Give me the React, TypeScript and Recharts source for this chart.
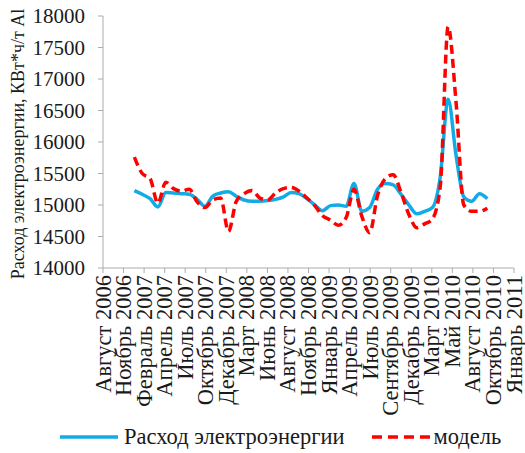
import React from 'react';
import { LineChart, Line, XAxis, YAxis, Legend, Label } from 'recharts';

// month index: 0 = August 2006
const monthIdx = [4, 5, 6, 7, 8, 9, 10, 11, 12, 13, 14, 15, 16, 17, 18, 19, 20, 21, 22, 23, 24, 25, 26, 27, 28, 29, 30, 31, 32, 33, 34, 35, 36, 37, 38, 39, 40, 41, 42, 43, 44, 45, 46, 47, 48, 49];

const consumption = [15228, 15170, 15100, 14970, 15200, 15190, 15180, 15170, 15090, 14980, 15140, 15190, 15210, 15140, 15080, 15060, 15060, 15070, 15090, 15130, 15200, 15180, 15100, 15000, 14910, 14990, 15000, 14980, 15340, 14900, 14960, 15250, 15340, 15320, 15170, 15000, 14860, 14900, 14960, 15450, 16680, 15800, 15130, 15060, 15180, 15100];

const model = [15760, 15500, 15420, 15030, 15360, 15260, 15220, 15250, 15050, 14960, 15080, 15110, 14580, 15060, 15180, 15230, 15110, 15080, 15190, 15260, 15280, 15220, 15110, 14990, 14830, 14760, 14680, 14800, 15250, 14820, 14560, 15150, 15420, 15480, 15200, 14850, 14640, 14700, 14780, 15300, 17830, 16650, 15000, 14900, 14900, 14950];

const tickLabels = ['Август 2006', 'Ноябрь 2006', 'Февраль 2007', 'Апрель 2007', 'Июль 2007', 'Октябрь 2007', 'Декабрь 2007', 'Март 2008', 'Июнь 2008', 'Август 2008', 'Ноябрь 2008', 'Январь 2009', 'Апрель 2009', 'Июль 2009', 'Сентябрь 2009', 'Декабрь 2009', 'Март 2010', 'Май 2010', 'Август 2010', 'Октябрь 2010', 'Январь 2011'];

const yTicks = [14000, 14500, 15000, 15500, 16000, 16500, 17000, 17500, 18000];

const X_MAX = 52.4;
const xTicks = tickLabels.map((_, k) => (k * X_MAX) / (tickLabels.length - 1));

const data = monthIdx.map((m, i) => ({ m, consumption: consumption[i], model: model[i] }));

const FONT = '"Liberation Serif", "Times New Roman", serif';
const BLUE = '#12ABE6';
const RED = '#FF0000';
const AXIS = '#ABABAB';
const TEXT = '#1a1a1a';

const XTick = (props: any) => {
  const { x, y, index } = props;
  return (
    <text
      x={x}
      y={y}
      transform={`rotate(-90 ${x} ${y})`}
      textAnchor="end"
      dominantBaseline="central"
      fontSize={22.5}
      fontFamily={FONT}
      fill={TEXT}
    >
      {tickLabels[index]}
    </text>
  );
};

const renderLegend = () => (
  <div style={{ display: 'flex', alignItems: 'center', paddingLeft: 60, fontFamily: FONT, fontSize: 22.5, color: TEXT, height: 30 }}>
    <svg width={58} height={10}>
      <line x1={0} y1={5} x2={58} y2={5} stroke={BLUE} strokeWidth={3.5} />
    </svg>
    <span style={{ marginLeft: 6 }}>Расход электроэнергии</span>
    <svg width={62} height={10} style={{ marginLeft: 27 }}>
      <line x1={0} y1={5} x2={62} y2={5} stroke={RED} strokeWidth={3.5} strokeDasharray="10 6" />
    </svg>
    <span>модель</span>
  </div>
);

export default function App() {
  return (
    <div style={{ position: 'absolute', left: 0, top: 0, width: 525, height: 453, background: '#fff' }}>
      <LineChart width={525} height={453} data={data} margin={{ top: 16, right: 11, left: 0, bottom: 1 }}>
        <XAxis
          dataKey="m"
          type="number"
          domain={[0, X_MAX]}
          ticks={xTicks}
          interval={0}
          tick={<XTick />}
          tickSize={5}
          tickMargin={2}
          height={154}
          stroke={AXIS}
          allowDecimals
        />
        <YAxis
          type="number"
          domain={[14000, 18000]}
          ticks={yTicks}
          interval={0}
          width={103}
          tickSize={5}
          tickMargin={13}
          stroke={AXIS}
          tick={{ fontSize: 21, fontFamily: FONT, fill: TEXT }}
        >
          <Label
            content={(p: any) => {
              const vb = p.viewBox || { x: 0, y: 16, width: 103, height: 252 };
              const cx = 18;
              const cy = vb.y + vb.height / 2 + 2;
              return (
                <text
                  x={cx}
                  y={cy}
                  transform={`rotate(-90 ${cx} ${cy})`}
                  textAnchor="middle"
                  dominantBaseline="central"
                  fontSize={18}
                  fontFamily={FONT}
                  fill={TEXT}
                >
                  Расход электроэнергии, КВт*ч/т Al
                </text>
              );
            }}
          />
        </YAxis>
        <Legend verticalAlign="bottom" height={30} content={renderLegend} />
        <Line
          type="monotone"
          dataKey="consumption"
          stroke={BLUE}
          strokeWidth={3.5}
          dot={false}
          isAnimationActive={false}
        />
        <Line
          type="monotone"
          dataKey="model"
          stroke={RED}
          strokeWidth={3.5}
          strokeDasharray="9 5"
          dot={false}
          isAnimationActive={false}
        />
      </LineChart>
    </div>
  );
}
